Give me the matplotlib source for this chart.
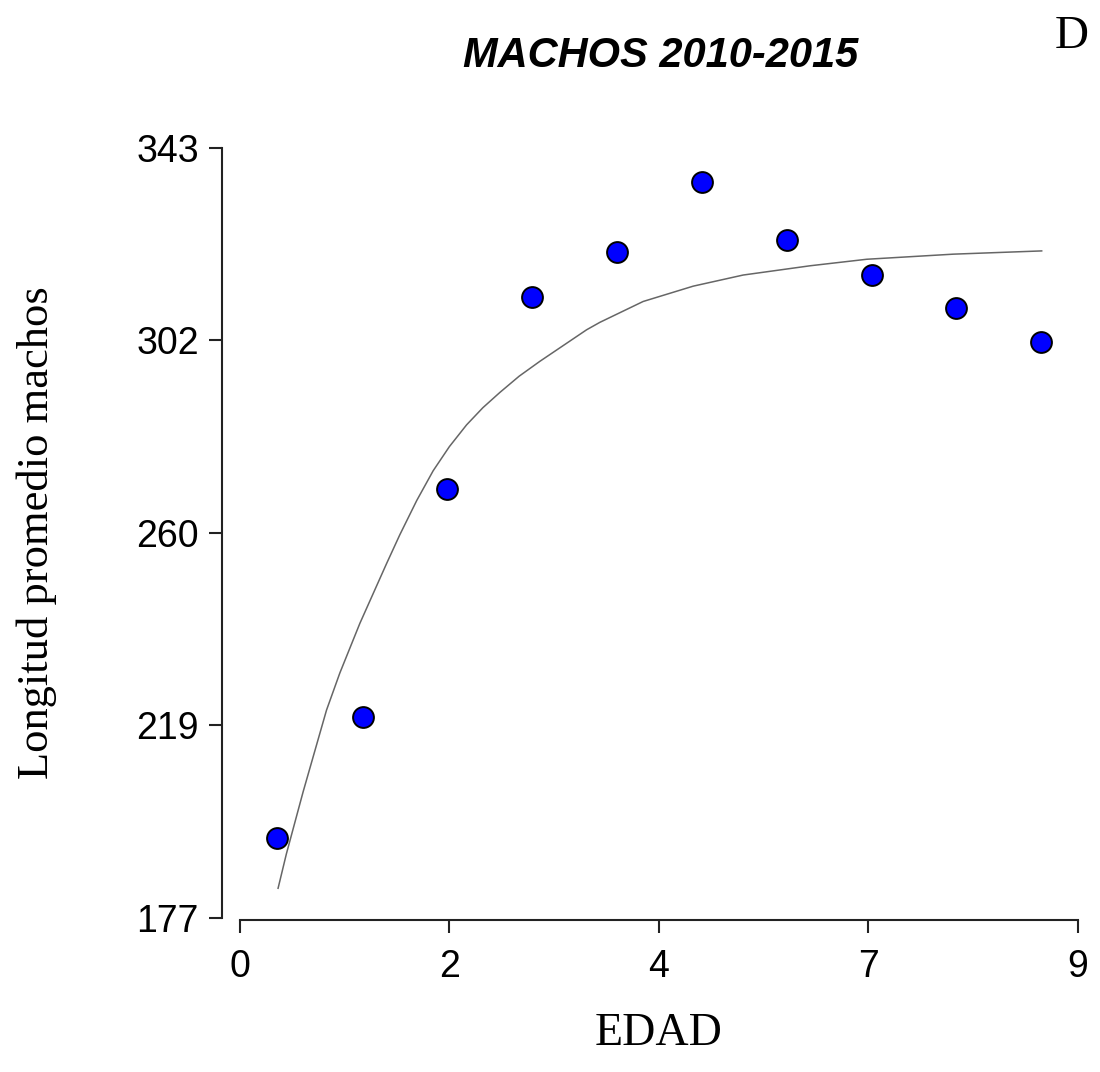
import matplotlib
matplotlib.use("Agg")
import matplotlib.pyplot as plt

# observed mean length by age
edad = [0.40, 1.32, 2.23, 3.14, 4.05, 4.96, 5.88, 6.79, 7.69, 8.60]
longitud = [194.3, 220.3, 269.5, 310.9, 320.6, 335.7, 323.2, 315.6, 308.5, 301.2]

# fitted growth curve
curva_x = [0.411, 0.50, 0.68, 0.931, 1.074, 1.289, 1.576, 1.718, 1.90, 2.076,
           2.25, 2.435, 2.61, 2.793, 3.0, 3.222, 3.724, 3.866, 4.331, 4.868,
           5.405, 6.125, 6.731, 7.661, 8.610]
curva_y = [183.4, 190.8, 204.2, 221.8, 229.8, 240.5, 253.4, 259.6, 267.0, 273.4,
           278.6, 283.3, 287.0, 290.3, 293.8, 297.0, 303.8, 305.4, 309.9, 313.2,
           315.6, 317.6, 319.0, 320.1, 320.8]

xticks = [0, 2.25, 4.5, 6.75, 9]
xtick_labels = ["0", "2", "4", "7", "9"]
yticks = [177, 218.5, 260, 301.5, 343]
ytick_labels = ["177", "219", "260", "302", "343"]

fig = plt.figure(figsize=(11, 10.72), dpi=100)
ax = fig.add_axes([0.218, 0.1437, 0.762, 0.7183])

ax.plot(curva_x, curva_y, color="#666666", lw=1.1, zorder=2)
ax.plot(edad, longitud, "o", ms=15, mfc="#0000ff", mec="black", mew=1.4, zorder=3)

ax.set_xlim(0, 9)
ax.set_ylim(177, 343)
ax.set_xticks(xticks)
ax.set_xticklabels(xtick_labels)
ax.set_yticks(yticks)
ax.set_yticklabels(ytick_labels)

for s in ["top", "right"]:
    ax.spines[s].set_visible(False)
ax.spines["left"].set_position(("outward", 13))
ax.spines["bottom"].set_position(("outward", 1.5))
for s in ["left", "bottom"]:
    ax.spines[s].set_linewidth(1.5)
    ax.spines[s].set_color("#222222")
ax.tick_params(length=9.5, width=1.5, labelsize=27, color="#222222")
ax.tick_params(axis="x", pad=11)
ax.tick_params(axis="y", pad=7)
for lab in ax.get_xticklabels() + ax.get_yticklabels():
    lab.set_family("Liberation Sans")

ax.set_xlabel("EDAD", family="Liberation Serif", fontsize=33, labelpad=20)
ax.set_ylabel("Longitud promedio machos", family="Liberation Serif", fontsize=32, labelpad=57)

fig.text(0.601, 0.948, "MACHOS 2010-2015", family="Liberation Sans", weight="bold",
         style="italic", fontsize=30, ha="center", va="center")
fig.text(0.99, 0.966, "D", family="Liberation Serif", fontsize=34, ha="right", va="center")

fig.savefig("out.png", dpi=100)
